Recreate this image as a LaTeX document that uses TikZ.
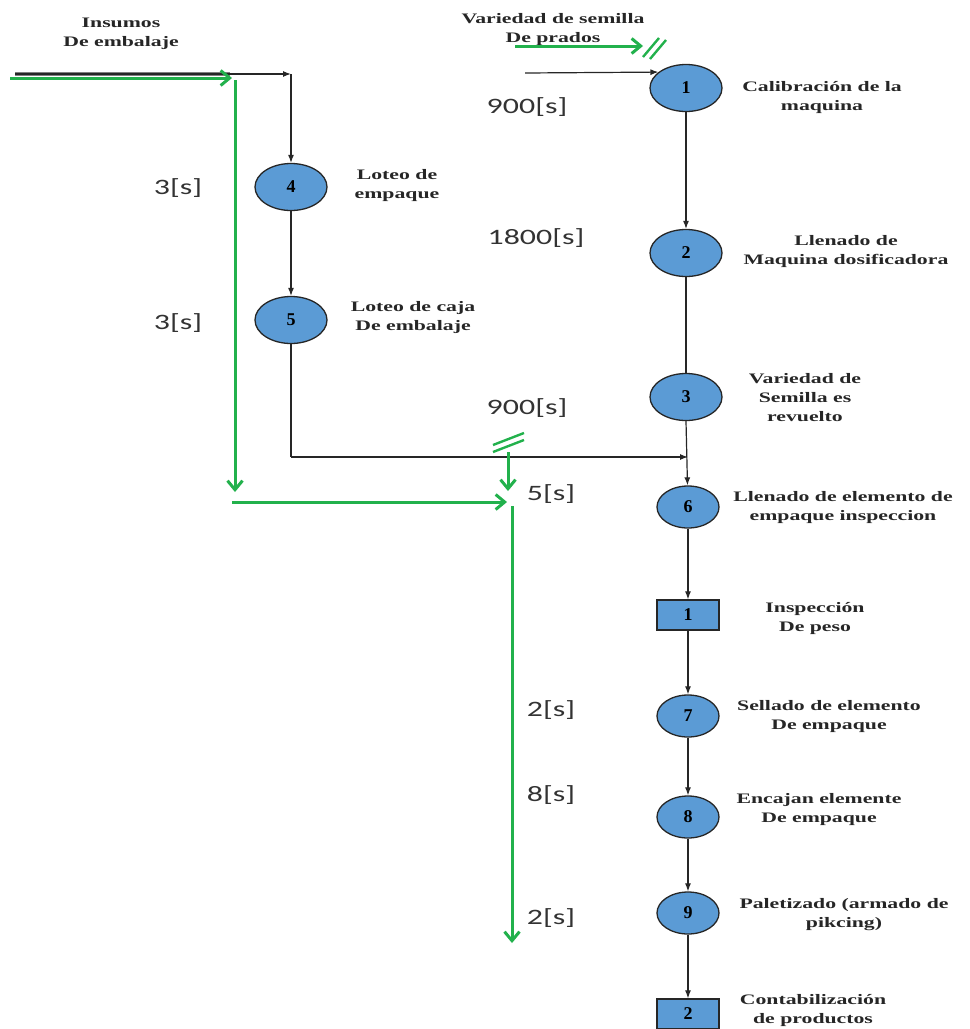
\documentclass[tikz,border=0pt]{standalone}
\usepackage{fontspec}
\setmainfont{Liberation Serif}
\newfontfamily\lblfont[FakeStretch=1.5]{Liberation Serif}
\newfontfamily\timefont[FakeStretch=1.45]{Carlito}
\usetikzlibrary{shapes.geometric,arrows.meta}
\definecolor{opblue}{RGB}{91,155,213}
\definecolor{flowgreen}{RGB}{34,177,76}
\tikzset{
  op/.style={ellipse,draw=black!85,line width=1.3pt,fill=opblue,minimum width=62pt,minimum height=42pt,inner sep=0pt,font=\fontsize{18}{18}\selectfont\bfseries},
  bigop/.style={op,minimum width=72pt,minimum height=47pt},
  insp/.style={rectangle,draw=black!85,line width=1.3pt,fill=opblue,minimum width=62pt,minimum height=30pt,inner sep=0pt,font=\fontsize{18}{18}\selectfont\bfseries},
  lbl/.style={align=center,font=\lblfont\fontsize{14.5}{19}\selectfont\bfseries,text=black!85},
  tlbl/.style={font=\timefont\fontsize{22}{22}\selectfont,text=black!80},
  flow/.style={draw=black!85,line width=1.2pt,-{Latex[length=8pt,width=6pt]}},
  plain/.style={draw=black!85,line width=1.2pt},
  gflow/.style={draw=flowgreen,line width=3pt,-{Straight Barb[length=9pt,width=15pt,line width=3pt]}},
  gslash/.style={draw=flowgreen,line width=2.4pt}
}
\begin{document}
\begin{tikzpicture}[x=1pt,y=-1pt]
\useasboundingbox (0,0) rectangle (970,1029);

% operations
\node[bigop] (n1) at (686,88) {1};
\node[bigop] (n2) at (686,253) {2};
\node[bigop] (n3) at (686,397) {3};
\node[bigop] (n4) at (291,187) {4};
\node[bigop] (n5) at (291,320) {5};
\node[op] (n6) at (688,507) {6};
\node[insp] (i1) at (688,615) {1};
\node[op] (n7) at (688,716) {7};
\node[op] (n8) at (688,817) {8};
\node[op] (n9) at (688,913) {9};
\node[insp] (i2) at (688,1014) {2};

% descriptions
\node[lbl] (tin) at (121,34) {Insumos\\De embalaje};
\node[lbl] (tvar) at (553,30) {Variedad de semilla\\De prados};
\node[lbl] (t1) at (822,98) {Calibración de la\\maquina};
\node[lbl] (t2) at (846,252) {Llenado de\\Maquina dosificadora};
\node[lbl] (t3) at (805,398) {Variedad de\\Semilla es\\revuelto};
\node[lbl] (t4) at (397,186) {Loteo de\\empaque};
\node[lbl] (t5) at (413,318) {Loteo de caja\\De embalaje};
\node[lbl] (t6) at (843,508) {Llenado de elemento de\\empaque inspeccion};
\node[lbl] (ti1) at (815,618) {Inspección\\De peso};
\node[lbl] (t7) at (829,717) {Sellado de elemento\\De empaque};
\node[lbl] (t8) at (819,810) {Encajan elemente\\De empaque};
\node[lbl] (t9) at (844,915) {Paletizado (armado de\\pikcing)};
\node[lbl] (ti2) at (813,1010) {Contabilización\\de productos};

% times
\node[tlbl] (s1) at (527,107) {900[s]};
\node[tlbl] (s2) at (536,238) {1800[s]};
\node[tlbl] (s3) at (527,408) {900[s]};
\node[tlbl] (s4) at (178,188) {3[s]};
\node[tlbl] (s5) at (178,323) {3[s]};
\node[tlbl] (s6) at (551,494) {5[s]};
\node[tlbl] (s7) at (551,710) {2[s]};
\node[tlbl] (s8) at (551,795) {8[s]};
\node[tlbl] (s9) at (551,918) {2[s]};

% reference points
\coordinate (inA) at (15,74);
\coordinate (inB) at (230,74);
\coordinate (inC) at (291,74);
\coordinate (seedA) at (525,73);
\coordinate (join) at (688,457);
\coordinate (turn5) at (291,457);

% black flow lines
\draw[line width=3.5pt,draw=black!50] (inA) -- (inB);
\draw[flow] (inA) -- (inC);
\draw[flow] (inC) -- (n4);
\draw[flow] (n4) -- (n5);
\draw[plain] (n5) -- (turn5);
\draw[flow] (turn5) -- (join);
\draw[flow] (seedA) -- (n1.150);
\draw[flow] (n1) -- (n2);
\draw[plain] (n2) -- (n3);
\draw[flow] (n3.south) -- (n6);
\draw[flow] (n6) -- (i1);
\draw[flow] (i1) -- (n7);
\draw[flow] (n7) -- (n8);
\draw[flow] (n8) -- (n9);
\draw[flow] (n9) -- (i2);

% green material flow
\coordinate (g1a) at (10,78);
\coordinate (g1b) at (232,78);
\coordinate (g2a) at (235,80);
\coordinate (g2b) at (235,492);
\coordinate (g3a) at (232,502);
\coordinate (g3b) at (507,502);
\coordinate (g4a) at (508,452);
\coordinate (g4b) at (508,491);
\coordinate (g5a) at (512,506);
\coordinate (g5b) at (512,943);
\coordinate (g6a) at (515,46);
\coordinate (g6b) at (643,46);
\draw[gflow] (g1a) -- (g1b);
\draw[gflow] (g2a) -- (g2b);
\draw[gflow] (g3a) -- (g3b);
\draw[gflow] (g4a) -- (g4b);
\draw[gflow] (g5a) -- (g5b);
\draw[gflow] (g6a) -- (g6b);

% break marks
\draw[gslash] (643,57) -- (659,38);
\draw[gslash] (650,59) -- (666,40);
\draw[gslash] (493,445) -- (524,433);
\draw[gslash] (493,452) -- (524,440);
\end{tikzpicture}
\end{document}
